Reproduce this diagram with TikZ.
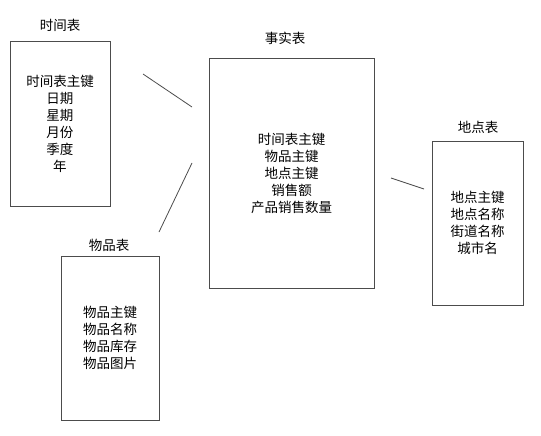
\documentclass[tikz,border=0pt]{standalone}
\usepackage{fontspec}
\setmainfont{Noto Sans CJK SC}
\usetikzlibrary{positioning}

\begin{document}
\begin{tikzpicture}[x=1pt, y=-1pt, every node/.style={font=\fontsize{13.5}{17}\selectfont},
	tablebox/.style={draw=black!70, line width=0.8pt, align=center, inner sep=0pt},
	link/.style={draw=black!70, line width=0.8pt}]
	\useasboundingbox (0,0) rectangle (541,436);
	% tables
	\node[tablebox, minimum width=100pt, minimum height=165pt] (time) at (60,123.5) {时间表主键\\日期\\星期\\月份\\季度\\年};
	\node[tablebox, minimum width=165pt, minimum height=230pt] (fact) at (291.5,173) {时间表主键\\物品主键\\地点主键\\销售额\\产品销售数量};
	\node[tablebox, minimum width=91pt, minimum height=164pt] (place) at (477.5,223) {地点主键\\地点名称\\街道名称\\城市名};
	\node[tablebox, minimum width=98pt, minimum height=164pt] (goods) at (110,338) {物品主键\\物品名称\\物品库存\\物品图片};
	% titles
	\node (timetitle) at (60,25) {时间表};
	\node (facttitle) at (285,38) {事实表};
	\node (placetitle) at (478,127) {地点表};
	\node (goodstitle) at (109,245) {物品表};
	% links
	\coordinate (t1) at (143,74);
	\coordinate (t2) at (192,107);
	\coordinate (g1) at (192,163);
	\coordinate (g2) at (159,232);
	\coordinate (p1) at (391,178);
	\coordinate (p2) at (424,189);
	\draw[link] (t1) -- (t2);
	\draw[link] (g1) -- (g2);
	\draw[link] (p1) -- (p2);
\end{tikzpicture}
\end{document}
